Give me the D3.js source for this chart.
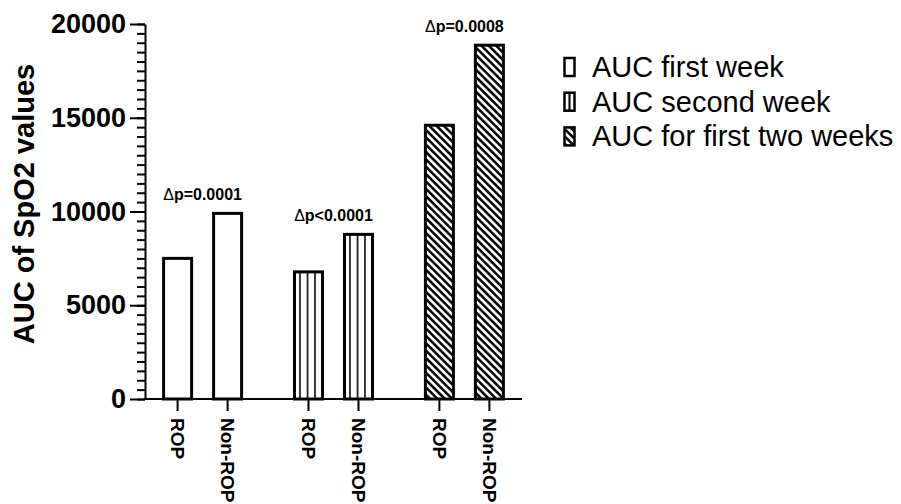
<!DOCTYPE html>
<html>
<head>
<meta charset="utf-8">
<script src="https://cdn.jsdelivr.net/npm/d3@7"></script>
<style>
  body { margin: 0; background: #fff; }
  svg { display: block; }
</style>
</head>
<body>
<svg id="chart" width="901" height="504"></svg>
<script>
// data
const groups = ["first", "second", "both"];
const categories = ["ROP", "Non-ROP"];
const firstWeek = [7500, 9900];
const secondWeek = [6780, 8780];
const firstTwoWeeks = [14600, 18870];
const pLabels = ["p=0.0001", "p<0.0001", "p=0.0008"];
const legendLabels = ["AUC first week", "AUC second week", "AUC for first two weeks"];
const yTicks = [0, 5000, 10000, 15000, 20000];

const seriesValues = [firstWeek, secondWeek, firstTwoWeeks];
const fills = ["#fff", "vstripe", "url(#hatch)"];
const FONT = "'Liberation Sans', Arial, Helvetica, sans-serif";

const svg = d3.select("#chart");
svg.append("rect").attr("width", 901).attr("height", 504).style("fill", "#fff");
const defs = svg.append("defs");

const y = d3.scaleLinear().domain([0, 20000]).range([399, 24]);
const x0 = d3.scalePoint().domain(groups).range([145, 522]).padding(0.44);
const x1 = d3.scalePoint().domain(categories).range([-25, 25]);
const barW = 28;

const bars = [];
groups.forEach(function(g, gi){
    categories.forEach(function(c, ci){
        bars.push({group: g, gi: gi, cat: c, value: seriesValues[gi][ci]});
    });
});

// diagonal hatch, "\" direction
const hatch = defs.append("pattern")
    .attr("id", "hatch")
    .attr("patternUnits", "userSpaceOnUse")
    .attr("width", 5.2).attr("height", 5.2)
    .attr("patternTransform", "rotate(-45)");
hatch.append("rect").attr("width", 5.2).attr("height", 5.2).style("fill", "#fff");
hatch.append("line").attr("x1", 1.3).attr("x2", 1.3).attr("y1", -1).attr("y2", 7)
    .style("stroke", "#000").style("stroke-width", 2.5);

function makeStripePattern(id, x, period, offset, width){
    const p = defs.append("pattern")
        .attr("id", id)
        .attr("patternUnits", "userSpaceOnUse")
        .attr("x", x).attr("y", 0)
        .attr("width", period).attr("height", 10);
    p.append("rect").attr("width", period).attr("height", 10).style("fill", "#fff");
    p.append("line").attr("x1", offset).attr("x2", offset).attr("y1", 0).attr("y2", 10)
        .style("stroke", "#111").style("stroke-width", width);
    return "url(#" + id + ")";
}

// bars
bars.forEach(function(d, i){
    const bx = x0(d.group) + x1(d.cat) - barW / 2;
    let fill = fills[d.gi];
    if (fill === "vstripe") fill = makeStripePattern("vs" + i, bx, 7.5, 5.5, 1.7);
    svg.append("rect")
        .attr("x", bx)
        .attr("y", y(d.value))
        .attr("width", barW)
        .attr("height", y(0) - y(d.value))
        .style("fill", fill)
        .style("stroke", "#000")
        .style("stroke-width", 3);
});

// y axis: minor ticks then major ticks
const minor = svg.append("g")
    .attr("transform", "translate(145,0)")
    .call(d3.axisLeft(y).tickValues(d3.range(0, 20001, 500)).tickSize(8).tickSizeOuter(0).tickFormat(""));
minor.select(".domain").remove();
minor.selectAll("line").style("stroke", "#000").style("stroke-width", 2);

const yAxis = svg.append("g")
    .attr("transform", "translate(145,0)")
    .call(d3.axisLeft(y).tickValues(yTicks).tickSize(15).tickSizeOuter(0).tickPadding(4).tickFormat(d3.format("d")));
yAxis.select(".domain").style("stroke", "#000").style("stroke-width", 2);
yAxis.selectAll("line").style("stroke", "#000").style("stroke-width", 2);
yAxis.selectAll("text")
    .style("font-family", FONT)
    .style("font-size", "27px")
    .style("font-weight", "bold")
    .style("fill", "#000");

// x axis
svg.append("line")
    .attr("x1", x0.range()[0] - 1).attr("x2", x0.range()[1])
    .attr("y1", y(0)).attr("y2", y(0))
    .style("stroke", "#000").style("stroke-width", 2);

bars.forEach(function(d){
    const cx = x0(d.group) + x1(d.cat);
    svg.append("line")
        .attr("x1", cx).attr("x2", cx)
        .attr("y1", y(0)).attr("y2", y(0) + 12)
        .style("stroke", "#000").style("stroke-width", 2);
    svg.append("text")
        .attr("transform", "translate(" + cx + "," + (y(0) + 19) + ") rotate(90)")
        .attr("dominant-baseline", "central")
        .style("font-family", FONT)
        .style("font-size", "19px")
        .style("font-weight", "bold")
        .text(d.cat);
});

// delta p labels
groups.forEach(function(g, gi){
    const t = svg.append("text")
        .attr("x", x0(g))
        .attr("y", y(d3.max(seriesValues[gi])) - 13)
        .attr("text-anchor", "middle")
        .style("font-family", FONT)
        .style("font-size", "16px")
        .style("font-weight", "bold");
    t.append("tspan").style("font-weight", "normal").text("\u0394");
    t.append("tspan").text(pLabels[gi]);
});

// y title
svg.append("text")
    .attr("transform", "translate(34,204) rotate(-90)")
    .attr("text-anchor", "middle")
    .style("font-family", FONT)
    .style("font-size", "29px")
    .style("font-weight", "bold")
    .text("AUC of SpO2 values");

// legend
const legendFills = ["#fff", makeStripePattern("vsleg", 563, 20, 6.5, 2.2), "url(#hatch)"];
legendLabels.forEach(function(label, i){
    const base = 77 + i * 34.7;
    svg.append("rect")
        .attr("x", 564.5).attr("y", base - 19)
        .attr("width", 10).attr("height", 18)
        .style("fill", legendFills[i])
        .style("stroke", "#000")
        .style("stroke-width", 2.5);
    svg.append("text")
        .attr("x", 592).attr("y", base)
        .style("font-family", FONT)
        .style("font-size", "29px")
        .text(label);
});
</script>
</body>
</html>
